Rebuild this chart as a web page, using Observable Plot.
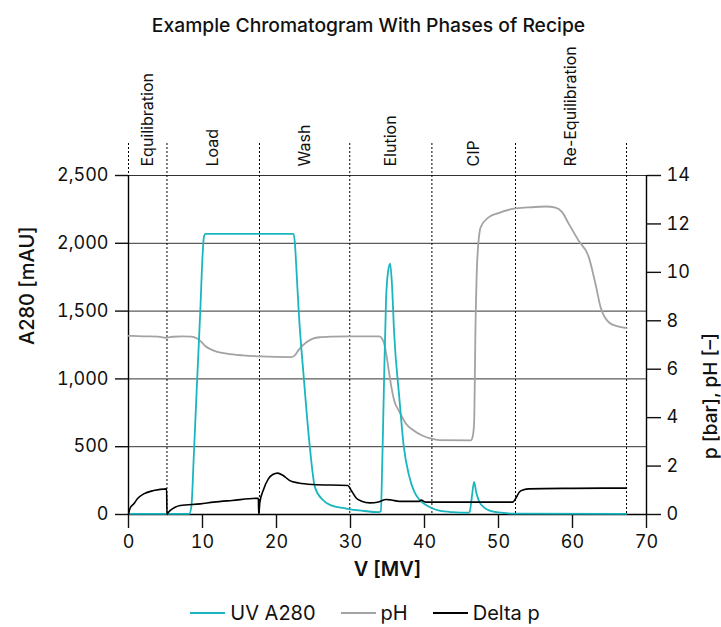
<!DOCTYPE html>
<html>
<head>
<meta charset="utf-8">
<script src="https://cdn.jsdelivr.net/npm/d3@7"></script>
<script src="https://cdn.jsdelivr.net/npm/@observablehq/plot@0.6"></script>
<style>
  body { margin: 0; background: #fff; font-family: Inter, "Noto Sans", sans-serif; color: #111; }
  #wrap { width: 721px; }
  #title { height: 44px; line-height: 50px; text-align: center; font-size: 19.3px; font-weight: 500; padding-left: 16px; box-sizing: border-box; }
  #legend { display: flex; justify-content: center; align-items: center; gap: 25px; height: 28px; font-size: 20px; padding-left: 9px; box-sizing: border-box; }
  .item { display: flex; align-items: center; gap: 5px; }
</style>
</head>
<body>
<div id="wrap">
  <div id="title">Example Chromatogram With Phases of Recipe</div>
  <div id="chart"></div>
  <div id="legend"></div>
</div>
<script>
// Phase boundaries [MV] and names
const phaseBounds = [0, 5.2, 17.7, 29.9, 41.0, 52.3, 67.3];
const phaseNames = ["Equilibration", "Load", "Wash", "Elution", "CIP", "Re-Equilibration"];

// Axis ticks
const xTicks = [0, 10, 20, 30, 40, 50, 60, 70];
const leftTicks = [0, 500, 1000, 1500, 2000, 2500];
const rightTicks = [0, 2, 4, 6, 8, 10, 12, 14];

// UV A280 [mAU] : [V, value]
const uvA280 = [[0,5],[8.2,5],[8.5,60],[8.8,400],[9.2,900],[9.7,1500],[10.0,1900],[10.2,2050],[10.4,2070],[22.3,2070],[22.5,1990],[22.7,1800],[23.0,1500],[23.7,1000],[24.5,500],[25.2,200],[26.3,105],[27.5,65],[29.4,44],[31.5,28],[33.9,17],[34.1,25],[34.3,400],[34.5,900],[34.8,1580],[35.1,1800],[35.36,1850],[35.6,1700],[35.9,1335],[36.6,860],[37.2,500],[37.9,290],[38.6,170],[39.3,110],[40.2,70],[41.1,44],[42.0,28],[43.8,17],[45.9,13],[46.1,20],[46.4,130],[46.7,240],[47.0,160],[47.4,95],[48.0,55],[48.7,30],[50,15],[51,10],[52,6],[67.3,5]];

// pH [-] : [V, value]
const pH = [[0,7.38],[2,7.36],[4,7.35],[5,7.3],[6,7.34],[7.3,7.36],[8.5,7.35],[9.2,7.28],[9.7,7.17],[10.4,6.95],[11.0,6.84],[12.0,6.72],[13.3,6.64],[15.5,6.57],[17.8,6.53],[22.0,6.50],[22.4,6.55],[23.0,6.8],[24.0,7.1],[25.0,7.27],[25.8,7.32],[27.5,7.35],[29.4,7.36],[33.9,7.36],[34.3,7.25],[34.6,7.0],[34.9,6.5],[35.3,5.67],[35.9,4.71],[36.6,4.25],[37.5,3.75],[38.4,3.5],[39.7,3.26],[40.9,3.13],[42.0,3.07],[46.25,3.06],[46.5,3.2],[46.7,3.76],[46.9,7.88],[47.15,10.63],[47.6,11.87],[48.7,12.28],[50,12.45],[52.1,12.63],[54,12.68],[56.4,12.72],[57.7,12.67],[58.6,12.49],[59.5,12.0],[60.8,11.32],[62.2,10.63],[63.1,9.53],[63.8,8.56],[64.9,7.94],[66,7.78],[67.3,7.7]];

// Delta p [bar] : [V, value]
const deltaP = [[0,0],[0.2,0.25],[0.72,0.44],[1.2,0.65],[2.06,0.85],[3.4,0.99],[5.15,1.06],[5.2,0],[5.3,0.05],[5.65,0.17],[6.3,0.3],[7.0,0.37],[9.7,0.44],[11.5,0.51],[14,0.58],[17.55,0.67],[17.6,0],[17.75,0.5],[18.2,0.99],[18.9,1.47],[19.5,1.65],[20.15,1.71],[20.9,1.61],[21.8,1.40],[23,1.3],[24.9,1.24],[29.65,1.20],[30.1,0.99],[30.8,0.67],[31.5,0.55],[32.6,0.48],[33.8,0.52],[34.8,0.62],[35.5,0.6],[36.6,0.54],[39.3,0.54],[39.55,0.6],[39.8,0.56],[40.2,0.51],[51.9,0.51],[52.4,0.7],[52.8,0.92],[53.4,1.02],[54.1,1.06],[60,1.08],[67.3,1.09]];

const colors = {uv: "#1ab6c0", ph: "#a3a3a3", dp: "#000000"};
const k = 2500 / 14; // right-axis units -> left-axis units

const phases = phaseNames.map((name, i) => ({name, mid: (phaseBounds[i] + phaseBounds[i + 1]) / 2}));
const toRows = (arr, f) => arr.map(([x, y]) => ({x, y: y * f}));

const fs = 18;
const chart = Plot.plot({
  width: 721,
  height: 555,
  marginTop: 131,
  marginBottom: 85,
  marginLeft: 128,
  marginRight: 75,
  style: {fontFamily: "Inter, 'Noto Sans', sans-serif", fontSize: fs + "px", color: "#111", background: "white"},
  x: {domain: [0, 70]},
  y: {domain: [0, 2500]},
  marks: [
    Plot.ruleY(leftTicks.slice(1), {stroke: "#333", strokeWidth: 1}),
    Plot.ruleX(phaseBounds, {stroke: "#000", strokeWidth: 1, strokeDasharray: "2,2", insetTop: -32}),
    Plot.ruleX([0, 70], {stroke: "#000", strokeWidth: 1.4}),
    Plot.ruleY([0], {stroke: "#000", strokeWidth: 1.4}),
    Plot.axisX({ticks: xTicks, tickSize: 14, tickPadding: 7, label: null, fontSize: fs, strokeWidth: 1.4}),
    Plot.axisY({anchor: "left", ticks: leftTicks, tickFormat: d3.format(","), tickSize: 13, tickPadding: 7, label: null, fontSize: fs, strokeWidth: 1.4}),
    Plot.axisY(rightTicks.map(v => v * k), {anchor: "right", tickFormat: d => String(Math.round(d / k)), tickSize: 14, tickPadding: 6, label: null, fontSize: fs, strokeWidth: 1.4}),
    Plot.line(toRows(pH, k), {x: "x", y: "y", stroke: colors.ph, strokeWidth: 1.8, curve: "monotone-x"}),
    Plot.line(toRows(uvA280, 1), {x: "x", y: "y", stroke: colors.uv, strokeWidth: 1.8, curve: "monotone-x"}),
    Plot.line(toRows(deltaP, k), {x: "x", y: "y", stroke: colors.dp, strokeWidth: 1.6, curve: "monotone-x"}),
    Plot.text(phases, {x: "mid", text: "name", frameAnchor: "top", dy: -9, rotate: -90, textAnchor: "start", lineAnchor: "middle", fontSize: 16}),
    Plot.text(["V [MV]"], {frameAnchor: "bottom", dy: 61, fontSize: 20, fontWeight: 600}),
    Plot.text(["A280 [mAU]"], {frameAnchor: "left", dx: -101, rotate: -90, fontSize: 20, fontWeight: 500}),
    Plot.text(["p [bar], pH [–]"], {frameAnchor: "right", dx: 64, dy: -12, rotate: -90, fontSize: 19, fontWeight: 500})
  ]
});
document.getElementById("chart").appendChild(chart);

const legendItems = [["UV A280", colors.uv], ["pH", colors.ph], ["Delta p", colors.dp]];
const legend = document.getElementById("legend");
for (const [label, c] of legendItems) {
  const it = document.createElement("div");
  it.className = "item";
  it.innerHTML = `<svg width="35" height="4"><line x1="0" x2="35" y1="2" y2="2" stroke="${c}" stroke-width="2"/></svg><span>${label}</span>`;
  legend.appendChild(it);
}
</script>
</body>
</html>
